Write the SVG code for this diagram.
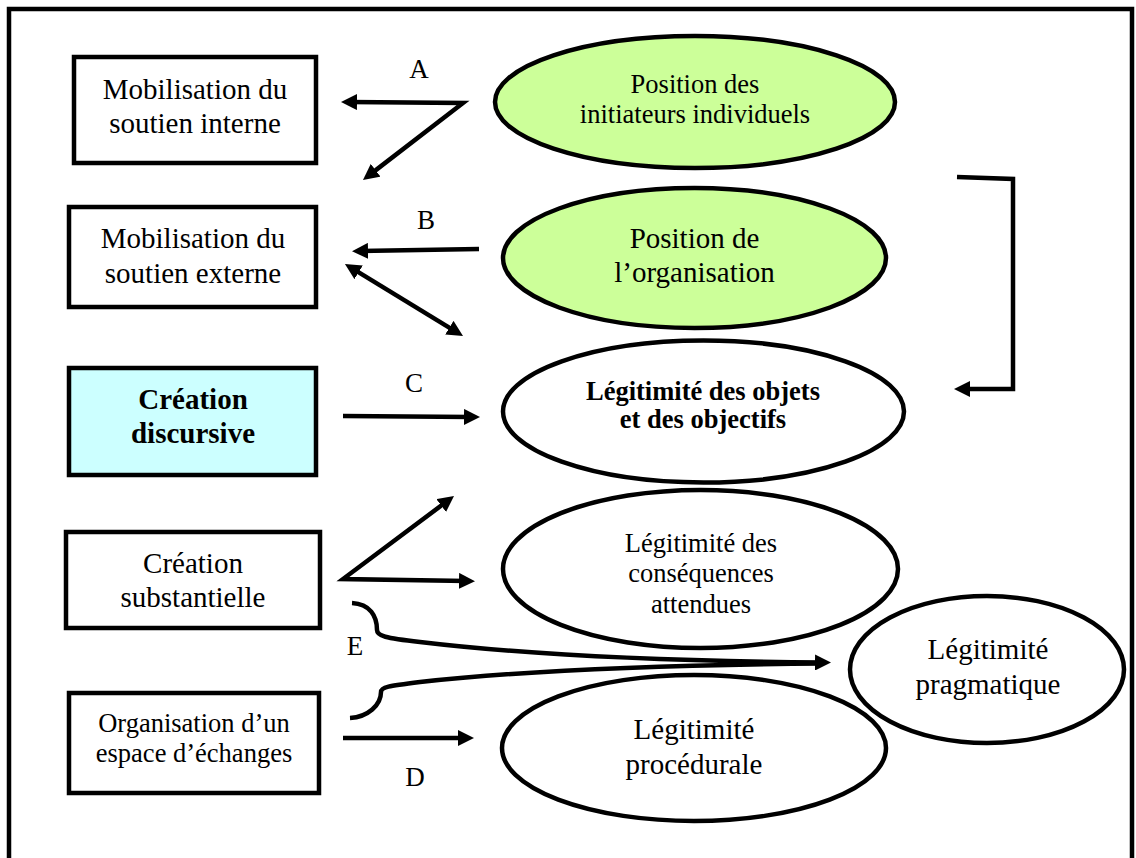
<svg xmlns="http://www.w3.org/2000/svg" width="1136" height="858" viewBox="0 0 1136 858">
<defs>
<style>
.box{fill:#fff;stroke:#000;stroke-width:4.5}
.ell{fill:#fff;stroke:#000;stroke-width:4.5}
.green{fill:#CCFF99}
.cyan{fill:#CCFFFF}
.t{font-family:"Liberation Serif","Times New Roman",serif;fill:#000;text-anchor:middle}
.b{font-weight:bold}
.con{fill:none;stroke:#000;stroke-width:4.5}
</style>
<marker id="ah" viewBox="0 0 16 16" markerWidth="16" markerHeight="16" refX="8" refY="8" orient="auto-start-reverse" markerUnits="userSpaceOnUse">
<path d="M0,0 L16,8 L0,16 z" fill="#000"/>
</marker>
</defs>
<rect x="0" y="0" width="1136" height="858" fill="#fff"/>
<rect id="frame" x="9" y="9" width="1123" height="870" fill="none" stroke="#000" stroke-width="4.5"/>

<g id="n-interne">
<rect class="box" x="74" y="57" width="242" height="106"/>
<text class="t" x="195" y="99" font-size="29">Mobilisation du</text>
<text class="t" x="195" y="133" font-size="29">soutien interne</text>
</g>
<g id="n-externe">
<rect class="box" x="69" y="207" width="247" height="100"/>
<text class="t" x="193" y="248" font-size="29">Mobilisation du</text>
<text class="t" x="193" y="283" font-size="29">soutien externe</text>
</g>
<g id="n-discursive">
<rect class="box cyan" x="69" y="368" width="247" height="107"/>
<text class="t b" x="193" y="409" font-size="29">Création</text>
<text class="t b" x="193" y="443" font-size="29">discursive</text>
</g>
<g id="n-substantielle">
<rect class="box" x="66" y="532" width="254" height="96"/>
<text class="t" x="193" y="573" font-size="29">Création</text>
<text class="t" x="193" y="607" font-size="29">substantielle</text>
</g>
<g id="n-espace">
<rect class="box" x="69" y="693" width="250" height="100"/>
<text class="t" x="194" y="732" font-size="26.5">Organisation d’un</text>
<text class="t" x="194" y="762" font-size="26.5">espace d’échanges</text>
</g>

<g id="n-initiateurs">
<ellipse class="ell green" cx="695" cy="102" rx="200" ry="66"/>
<text class="t" x="695" y="93" font-size="26.5">Position des</text>
<text class="t" x="695" y="123" font-size="26.5">initiateurs individuels</text>
</g>
<g id="n-organisation">
<ellipse class="ell green" cx="694.5" cy="258" rx="191.5" ry="70"/>
<text class="t" x="694.5" y="248" font-size="29">Position de</text>
<text class="t" x="694.5" y="282" font-size="29">l’organisation</text>
</g>
<g id="n-objets">
<ellipse class="ell" cx="703.5" cy="411.5" rx="200.5" ry="71"/>
<text class="t b" x="703" y="400" font-size="26.5">Légitimité des objets</text>
<text class="t b" x="703" y="428" font-size="26.5">et des objectifs</text>
</g>
<g id="n-consequences">
<ellipse class="ell" cx="700.5" cy="569" rx="197.5" ry="79"/>
<text class="t" x="701" y="552" font-size="26.5">Légitimité des</text>
<text class="t" x="701" y="582" font-size="26.5">conséquences</text>
<text class="t" x="701" y="613" font-size="26.5">attendues</text>
</g>
<g id="n-pragmatique">
<ellipse class="ell" cx="987" cy="669.5" rx="137" ry="73.5"/>
<text class="t" x="988" y="659" font-size="29">Légitimité</text>
<text class="t" x="988" y="694" font-size="29">pragmatique</text>
</g>
<g id="n-procedurale">
<ellipse class="ell" cx="694" cy="748" rx="192" ry="73"/>
<text class="t" x="694" y="739" font-size="29">Légitimité</text>
<text class="t" x="694" y="774" font-size="29">procédurale</text>
</g>

<g id="connectors">
<path class="con" d="M349,102 L463,103 L369.3,175.1" marker-start="url(#ah)" marker-end="url(#ah)"/>
<path class="con" d="M479,249 L360,251" marker-end="url(#ah)"/>
<path class="con" d="M351.8,268.2 L456.2,331.8" marker-start="url(#ah)" marker-end="url(#ah)"/>
<path class="con" d="M957,177 L1013,179 L1013,389 L962,389" marker-end="url(#ah)"/>
<path class="con" d="M343,416 L472,417" marker-end="url(#ah)"/>
<path class="con" d="M447.6,500.8 L343,579 L467,581" marker-start="url(#ah)" marker-end="url(#ah)"/>
<path class="con" d="M343,738 L466,738" marker-end="url(#ah)"/>
<path class="con" d="M352,603 C370,604 377,616 377,630 C377,636 385,638 420,642 C520,654 640,661 823,662.5" marker-end="url(#ah)"/>
<path class="con" d="M350,718 C368,717 381,705 381,692 C381,687 388,686 420,682 C520,671 640,665 823,663.5"/>
<g class="t" font-size="27">
<text x="419" y="78">A</text>
<text x="426" y="229">B</text>
<text x="414" y="392">C</text>
<text x="415" y="786">D</text>
<text x="355" y="655">E</text>
</g>
</g>
</svg>
